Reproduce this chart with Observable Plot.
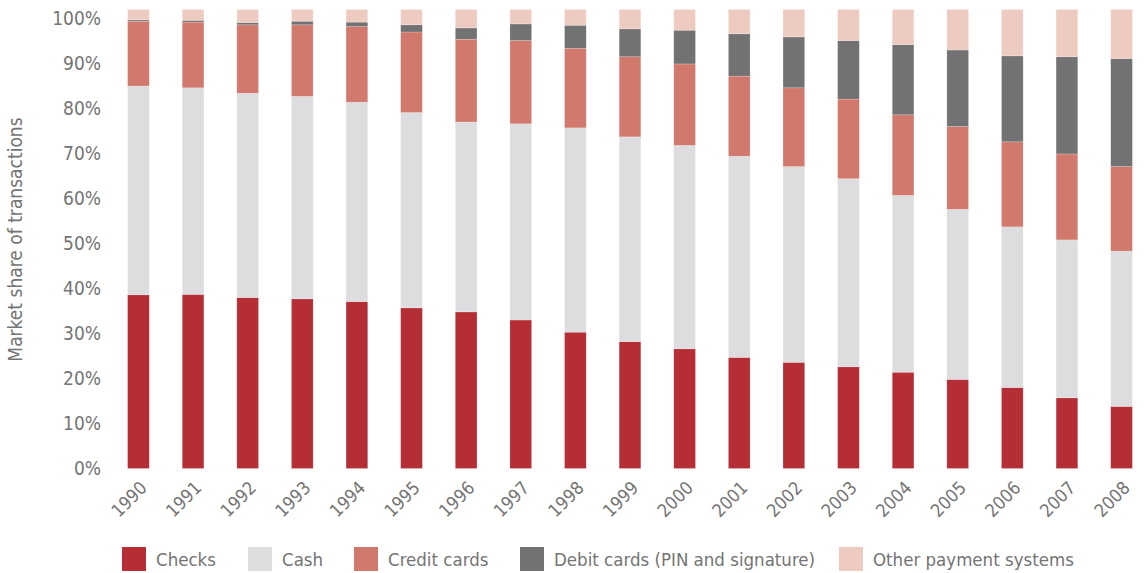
<!DOCTYPE html>
<html>
<head>
<meta charset="utf-8">
<script src="https://cdn.jsdelivr.net/npm/d3@7"></script>
<script src="https://cdn.jsdelivr.net/npm/@observablehq/plot@0.6"></script>
<style>
  html, body { margin: 0; padding: 0; background: #fff; }
  body { width: 1144px; height: 573px; position: relative; overflow: hidden;
         font-family: "DejaVu Sans Condensed", "DejaVu Sans", sans-serif; font-stretch: condensed; }
  #legend { position: absolute; left: 0; top: 547px; width: 1144px; height: 26px;
            font-size: 18.5px; color: #747474; }
  .item { position: absolute; top: 0; display: flex; align-items: center; white-space: nowrap; height: 24px; }
  .sw { width: 24px; height: 24px; margin-right: 10px; flex: none; }
</style>
</head>
<body>
<div id="chart"></div>
<div id="legend"></div>
<script>
const years = ["1990","1991","1992","1993","1994","1995","1996","1997","1998","1999","2000","2001","2002","2003","2004","2005","2006","2007","2008"];
const seriesNames = ["Checks", "Cash", "Credit cards", "Debit cards (PIN and signature)", "Other payment systems"];
const seriesColors = ["#b52d35", "#dddde0", "#d0796c", "#737273", "#eecbc1"];
const checks = [38.6,38.7,38.0,37.7,37.1,35.7,34.8,33.0,30.3,28.2,26.6,24.7,23.6,22.6,21.4,19.8,18.0,15.7,13.8];
const cash   = [46.4,45.9,45.4,45.0,44.3,43.4,42.2,43.6,45.4,45.5,45.2,44.7,43.5,41.8,39.3,37.8,35.7,35.1,34.5];
const credit = [14.4,14.6,15.2,15.9,16.8,17.9,18.4,18.5,17.7,17.8,18.1,17.8,17.5,17.7,17.9,18.4,18.9,19.1,18.8];
const debit  = [0.3,0.4,0.5,0.8,1.0,1.6,2.5,3.7,5.1,6.2,7.5,9.4,11.3,13.0,15.6,17.0,19.1,21.6,24.0];
const other  = [2.3,2.4,2.9,2.6,2.8,3.4,4.1,3.2,3.5,4.3,4.6,5.4,6.1,6.9,7.8,9.0,10.3,10.5,10.9];
const yTicks = [0,10,20,30,40,50,60,70,80,90,100];
const legendLeft = [122, 248, 354, 520, 839];

const seriesValues = [checks, cash, credit, debit, other];
const data = [];
years.forEach((yr, i) => {
  seriesNames.forEach((s, j) => data.push({year: yr, series: s, value: seriesValues[j][i]}));
});

const chart = Plot.plot({
  width: 1144,
  height: 540,
  marginLeft: 127.6,
  marginRight: 11.6,
  marginTop: 9.5,
  marginBottom: 71.5,
  style: {fontFamily: '"DejaVu Sans Condensed", "DejaVu Sans", sans-serif', fontStretch: "condensed", fontSize: "18px", color: "#747474"},
  x: {domain: years, paddingInner: 0.603, paddingOuter: 0, round: false},
  y: {domain: [0, 102]},
  color: {domain: seriesNames, range: seriesColors},
  marks: [
    Plot.barY(data, Plot.stackY({order: seriesNames}, {x: "year", y: "value", fill: "series", stroke: "#ffffff", strokeOpacity: 0.35, strokeWidth: 0.6})),
    Plot.axisY({ticks: yTicks, tickFormat: d => d + "%", tickSize: 0, tickPadding: 27, fontSize: 19,
      label: "Market share of transactions", labelAnchor: "center", labelOffset: 120, labelArrow: "none"}),
    Plot.axisX({tickSize: 0, tickPadding: 16, tickRotate: -45, fontSize: 18, dx: 5, label: null})
  ]
});
document.getElementById("chart").appendChild(chart);

const legend = document.getElementById("legend");
seriesNames.forEach((s, j) => {
  const it = document.createElement("div");
  it.className = "item";
  it.style.left = legendLeft[j] + "px";
  const sw = document.createElement("div");
  sw.className = "sw";
  sw.style.background = seriesColors[j];
  const tx = document.createElement("span");
  tx.textContent = s;
  it.appendChild(sw); it.appendChild(tx);
  legend.appendChild(it);
});
</script>
</body>
</html>
